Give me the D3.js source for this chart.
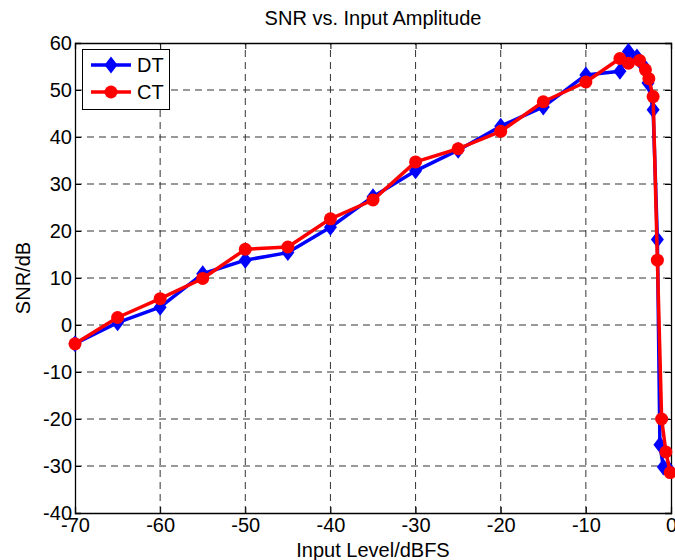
<!DOCTYPE html>
<html>
<head>
<meta charset="utf-8">
<script src="https://cdn.jsdelivr.net/npm/d3@7"></script>
<style>
  body { margin: 0; background: #fff; }
  text { font-family: "Liberation Sans", Arial, sans-serif; fill: #000; }
</style>
</head>
<body>
<div id="chart"></div>
<script>
var width = 675;
var height = 560;

// input level (dBFS) and SNR (dB) for each series
var dtInput = [-70, -65, -60, -55, -50, -45, -40, -35, -30, -25, -20, -15, -10, -6, -5, -4, -3.3, -2.7, -2.1, -1.6, -1.3, -0.9, -0.3];
var dtSnr   = [-4, 0.5, 3.8, 10.9, 13.8, 15.4, 20.8, 27.3, 32.8, 37.2, 42.3, 46.4, 53.2, 54, 58.2, 57, 55.3, 51.5, 45.8, 18.2, -25.5, -30.2, -30.6];

var ctInput = [-70, -65, -60, -55, -50, -45, -40, -35, -30, -25, -20, -15, -10, -6, -5, -3.7, -3, -2.6, -2.1, -1.6, -1.1, -0.6, -0.1];
var ctSnr   = [-4, 1.6, 5.6, 9.9, 16.1, 16.6, 22.6, 26.6, 34.7, 37.5, 41.2, 47.5, 51.7, 56.7, 55.7, 56.3, 54.3, 52.4, 48.6, 13.8, -20, -27, -31.4];

var xTicks = [-70, -60, -50, -40, -30, -20, -10, 0];
var yTicks = [-40, -30, -20, -10, 0, 10, 20, 30, 40, 50, 60];

var margin = {left: 75, right: 4, top: 43, bottom: 47};

var svg = d3.select("#chart").append("svg")
    .attr("width", width)
    .attr("height", height);

var x = d3.scaleLinear()
    .domain([-70, 0])
    .range([margin.left, width - margin.right]);

var y = d3.scaleLinear()
    .domain([-40, 60])
    .range([height - margin.bottom, margin.top]);

// dashed grid
svg.append("g")
    .selectAll("line")
    .data(xTicks.slice(1, -1))
    .enter().append("line")
    .attr("x1", d => x(d)).attr("x2", d => x(d))
    .attr("y1", y(-40)).attr("y2", y(60))
    .attr("stroke", "#333").attr("stroke-width", 1)
    .attr("stroke-dasharray", "7,5");

svg.append("g")
    .selectAll("line")
    .data(yTicks.slice(1, -1))
    .enter().append("line")
    .attr("x1", x(-70)).attr("x2", x(0))
    .attr("y1", d => y(d)).attr("y2", d => y(d))
    .attr("stroke", "#333").attr("stroke-width", 1)
    .attr("stroke-dasharray", "7,5");

// axes, ticks pointing inwards like matlab
var tickLen = 6;
var fmt = d => String(d); // plain hyphen minus like the original
svg.append("g")
    .attr("transform", "translate(0," + y(-40) + ")")
    .call(d3.axisBottom(x).tickValues(xTicks).tickSize(-tickLen).tickPadding(5).tickFormat(fmt));
svg.append("g")
    .attr("transform", "translate(0," + y(60) + ")")
    .call(d3.axisTop(x).tickValues(xTicks).tickSize(-tickLen).tickFormat(""));
svg.append("g")
    .attr("transform", "translate(" + x(-70) + ",0)")
    .call(d3.axisLeft(y).tickValues(yTicks).tickSize(-tickLen).tickPadding(3).tickFormat(fmt));
svg.append("g")
    .attr("transform", "translate(" + x(0) + ",0)")
    .call(d3.axisRight(y).tickValues(yTicks).tickSize(-tickLen).tickFormat(""));

svg.selectAll(".domain").attr("stroke", "#000").attr("stroke-width", 1.3);
svg.selectAll(".tick line").attr("stroke", "#000");
svg.selectAll(".tick text")
    .style("font-family", "'Liberation Sans', Arial, sans-serif")
    .style("font-size", "20px")
    .attr("fill", "#000");

// series
var line = d3.line();

function drawSeries(xs, ys, color, marker) {
    var pts = xs.map((d, i) => [x(d), y(ys[i])]);
    svg.append("path")
        .attr("d", line(pts))
        .attr("fill", "none")
        .attr("stroke", color)
        .attr("stroke-width", 3.5)
        .attr("stroke-linejoin", "round");
    if (marker == "diamond") {
        svg.append("g").selectAll("path")
            .data(pts)
            .enter().append("path")
            .attr("d", d => "M" + d[0] + "," + (d[1] - 8.5) + "L" + (d[0] + 6.5) + "," + d[1] + "L" + d[0] + "," + (d[1] + 8.5) + "L" + (d[0] - 6.5) + "," + d[1] + "Z")
            .attr("fill", color);
    } else {
        svg.append("g").selectAll("circle")
            .data(pts)
            .enter().append("circle")
            .attr("cx", d => d[0]).attr("cy", d => d[1])
            .attr("r", 6.5)
            .attr("fill", color);
    }
}

drawSeries(dtInput, dtSnr, "#0000ff", "diamond");
drawSeries(ctInput, ctSnr, "#ff0000", "circle");

// legend
var lg = svg.append("g");
lg.append("rect")
    .attr("x", 82.5).attr("y", 49.5)
    .attr("width", 87).attr("height", 60)
    .attr("fill", "#fff").attr("stroke", "#000").attr("stroke-width", 1);
lg.append("line").attr("x1", 91).attr("x2", 131).attr("y1", 65).attr("y2", 65)
    .attr("stroke", "#0000ff").attr("stroke-width", 3.5);
lg.append("path").attr("d", "M111,56.5L117.5,65L111,73.5L104.5,65Z").attr("fill", "#0000ff");
lg.append("line").attr("x1", 91).attr("x2", 131).attr("y1", 92).attr("y2", 92)
    .attr("stroke", "#ff0000").attr("stroke-width", 3.5);
lg.append("circle").attr("cx", 111).attr("cy", 92).attr("r", 6.5).attr("fill", "#ff0000");
lg.append("text").attr("x", 137).attr("y", 72).style("font-size", "20px").text("DT");
lg.append("text").attr("x", 137).attr("y", 99).style("font-size", "20px").text("CT");

// titles
svg.append("text")
    .attr("x", (x(-70) + x(0)) / 2).attr("y", 25)
    .attr("text-anchor", "middle")
    .style("font-size", "20px")
    .text("SNR vs. Input Amplitude");

svg.append("text")
    .attr("x", (x(-70) + x(0)) / 2).attr("y", 557)
    .attr("text-anchor", "middle")
    .style("font-size", "20px")
    .text("Input Level/dBFS");

svg.append("text")
    .attr("transform", "translate(30," + (y(10)) + ") rotate(-90)")
    .attr("text-anchor", "middle")
    .style("font-size", "20px")
    .text("SNR/dB");
</script>
</body>
</html>
